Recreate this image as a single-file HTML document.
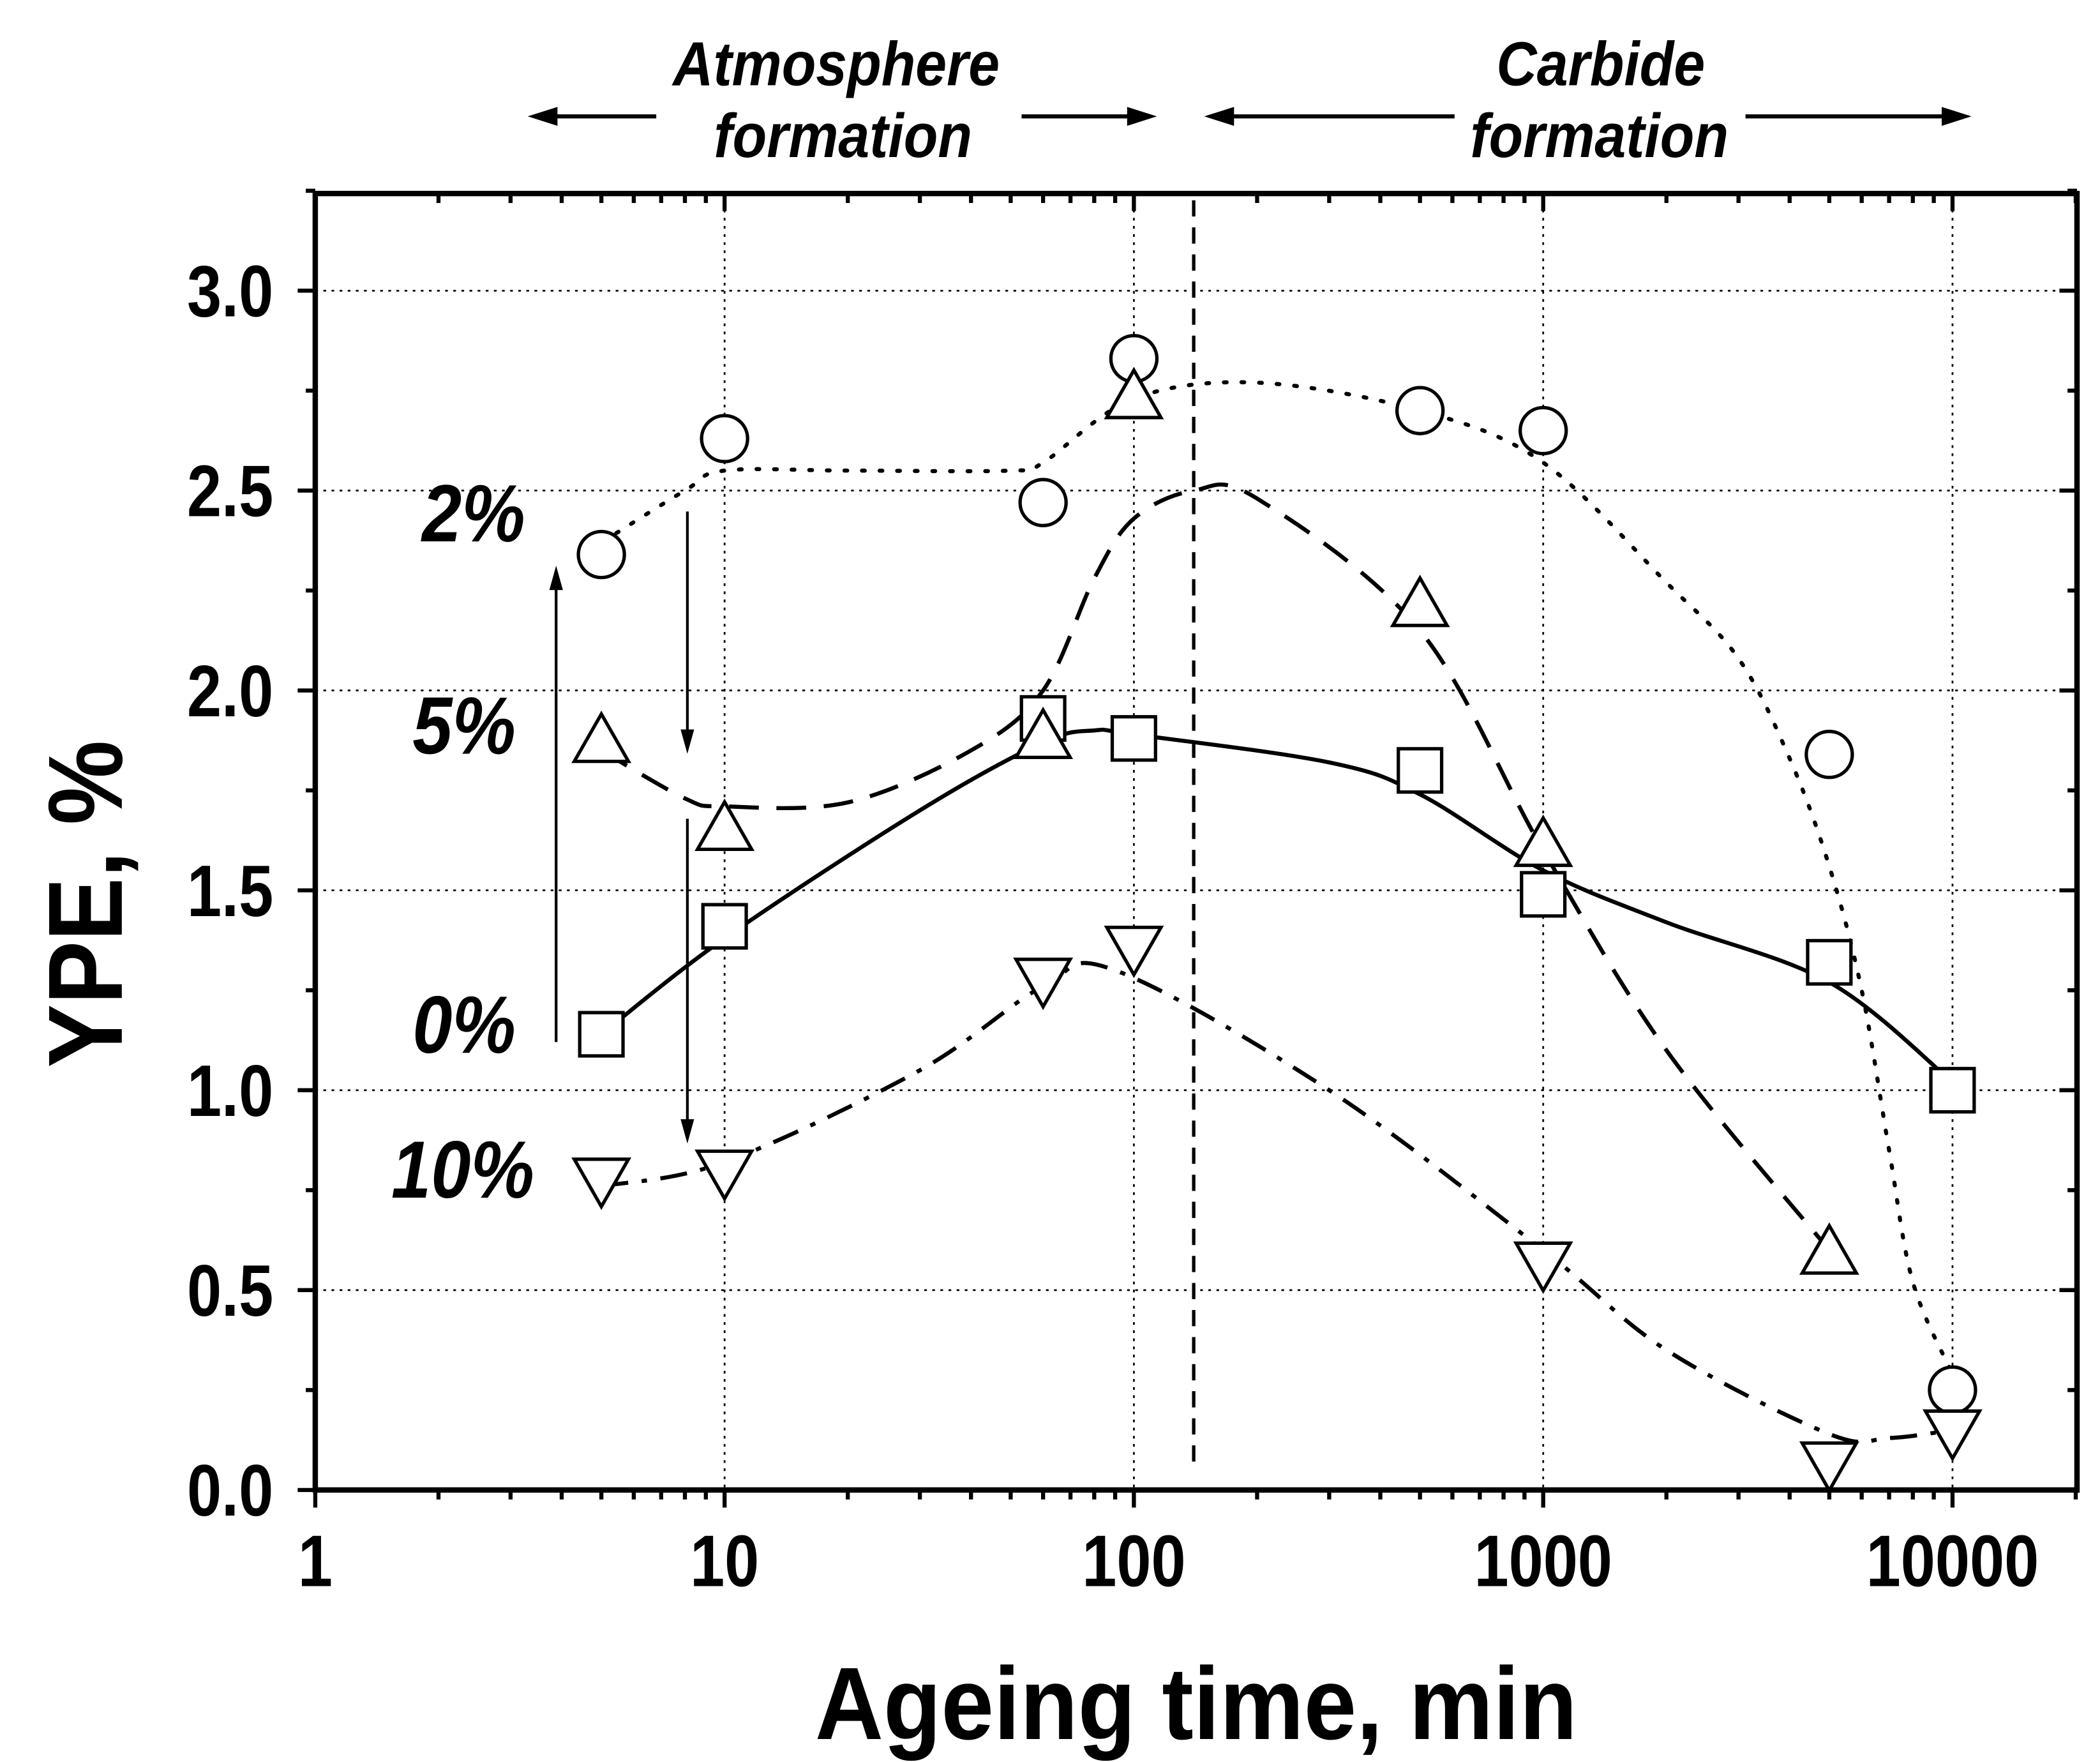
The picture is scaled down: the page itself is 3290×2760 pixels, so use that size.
<!DOCTYPE html>
<html><head><meta charset="utf-8"><style>
html,body{margin:0;padding:0;background:#fff}
svg{display:block}
text{font-family:"Liberation Sans Narrow","Liberation Sans",sans-serif;font-weight:bold;fill:#000}
</style></head><body>
<svg id="chart" width="3290" height="2760" viewBox="0 0 1552 1302" preserveAspectRatio="none" xmlns="http://www.w3.org/2000/svg">
<g id="g"></g>
</svg>
<script>
const xTicks=[1,10,100,1000,10000];
const xTickLabels=["1","10","100","1000","10000"];
const yTicks=[0,0.5,1.0,1.5,2.0,2.5,3.0];
const yTickLabels=["0.0","0.5","1.0","1.5","2.0","2.5","3.0"];
const sqX=[5,10,60,100,500,1000,5000,10000];
const sqY=[1.14,1.41,1.93,1.88,1.80,1.49,1.32,1.00];
const ciX=[5,10,60,100,500,1000,5000,10000];
const ciY=[2.34,2.63,2.47,2.83,2.70,2.65,1.84,0.25];
const upX=[5,10,60,100,500,1000,5000];
const upY=[1.87,1.65,1.88,2.73,2.21,1.61,0.59];
const dnX=[5,10,60,100,1000,5000,10000];
const dnY=[0.78,0.80,1.28,1.36,0.57,0.07,0.15];
const fitSqX=[5,10,30,60,80,100,300,500,1000,2000,5000,10000];
const fitSqY=[1.14,1.38,1.70,1.87,1.90,1.89,1.82,1.74,1.55,1.42,1.27,1.02];
const fitCiX=[5,8,10,20,50,60,100,200,500,1000,2000,3000,4000,5000,6000,7000,8000,10000];
const fitCiY=[2.37,2.50,2.55,2.55,2.55,2.57,2.73,2.77,2.70,2.57,2.27,2.08,1.83,1.56,1.25,0.85,0.52,0.29];
const fitUpX=[5,8,10,20,40,60,80,100,140,200,500,1000,2000,5000];
const fitUpY=[1.85,1.73,1.71,1.72,1.85,2.00,2.28,2.43,2.50,2.48,2.15,1.60,1.10,0.60];
const fitDnX=[5,10,30,60,90,300,1000,2000,5000,7000,10000];
const fitDnY=[0.76,0.82,1.05,1.26,1.30,1.00,0.60,0.35,0.14,0.13,0.15];

const L=233,R=1535,T=143,B=1101;
const xs=v=>L+Math.log10(v)*302.5;
const ys=v=>B-v*295.4;
const NS="http://www.w3.org/2000/svg";
const g=document.getElementById('g');
function el(tag,attrs,parent){const e=document.createElementNS(NS,tag);for(const k in attrs)e.setAttribute(k,attrs[k]);(parent||g).appendChild(e);return e;}

const grid=el('g',{});


xTicks.slice(1).forEach(v=>el('line',{x1:xs(v),x2:xs(v),y1:T,y2:B,stroke:'#000','stroke-width':1.3,'stroke-dasharray':'2,4'},grid));
yTicks.slice(1).forEach(v=>el('line',{x1:L,x2:R,y1:ys(v),y2:ys(v),stroke:'#000','stroke-width':1.3,'stroke-dasharray':'2,4'},grid));

const dv=el('line',{x1:xs(140),x2:xs(140),y1:T+5,y2:1082,stroke:'#000','stroke-width':2.5,'stroke-dasharray':'12,8'});



function smooth(xa,ya){const p=xa.map((x,i)=>[xs(x),ys(ya[i])]);let d=`M${p[0][0]},${p[0][1]}`;for(let i=0;i<p.length-1;i++){const p0=p[Math.max(0,i-1)],p1=p[i],p2=p[i+1],p3=p[Math.min(p.length-1,i+2)];const c1=[p1[0]+(p2[0]-p0[0])/6,p1[1]+(p2[1]-p0[1])/6];const c2=[p2[0]-(p3[0]-p1[0])/6,p2[1]-(p3[1]-p1[1])/6];d+=`C${c1[0]},${c1[1]} ${c2[0]},${c2[1]} ${p2[0]},${p2[1]}`;}return d;}
const c1=el('path',{d:smooth(fitSqX,fitSqY),fill:'none',stroke:'#000','stroke-width':3});


const c2=el('path',{d:smooth(fitCiX,fitCiY),fill:'none',stroke:'#000','stroke-width':3,'stroke-dasharray':'2,11','stroke-linecap':'round'});


const c3=el('path',{d:smooth(fitUpX,fitUpY),fill:'none',stroke:'#000','stroke-width':3,'stroke-dasharray':'22,13'});


const c4=el('path',{d:smooth(fitDnX,fitDnY),fill:'none',stroke:'#000','stroke-width':3,'stroke-dasharray':'20,10,4,10'});



const ms={stroke:'#000','stroke-width':2.5,fill:'#fff'};
sqX.forEach((x,i)=>{const cx=xs(x),cy=ys(sqY[i]);const m=el('rect',Object.assign({x:cx-16,y:cy-16,width:32,height:32},ms));

});
ciX.forEach((x,i)=>{const m=el('circle',Object.assign({cx:xs(x),cy:ys(ciY[i]),r:17},ms));

});
upX.forEach((x,i)=>{const cx=xs(x),cy=ys(upY[i]);const m=el('polygon',Object.assign({points:`${cx-20},${cy+14} ${cx+20},${cy+14} ${cx},${cy-21}`},ms));

});
dnX.forEach((x,i)=>{const cx=xs(x),cy=ys(dnY[i]);const m=el('polygon',Object.assign({points:`${cx-20},${cy-14} ${cx+20},${cy-14} ${cx},${cy+21}`},ms));

});

const fr=el('rect',{x:L,y:T,width:R-L,height:B-T,fill:'none',stroke:'#000','stroke-width':4});


const tk=el('g',{stroke:'#000','stroke-width':3});


for(let d=1;d<=10000;d*=10){for(let k=1;k<10;k++){const v=d*k;const x=xs(v);if(x>R)continue;const major=k===1;
el('line',{x1:x,x2:x,y1:B,y2:B+(major?13:7)},tk);el('line',{x1:x,x2:x,y1:T,y2:T+(major?13:7)},tk);}}
for(let v=0;v<=3.25;v+=0.25){const y=ys(v);const major=Math.abs(v*2-Math.round(v*2))<1e-6;
el('line',{x1:L,x2:L-(major?13:7),y1:y,y2:y},tk);el('line',{x1:R,x2:R-(major?13:7),y1:y,y2:y},tk);}

function ntext(s,x,y,size,anchor,sx,name,extra){const t=el('text',Object.assign({x:0,y:0,'font-size':size,'text-anchor':anchor,transform:`translate(${x},${y}) scale(${sx},1)`},extra||{}));t.textContent=s;

return t;}
xTicks.forEach((v,i)=>ntext(xTickLabels[i],xs(v),1172,54,'middle',0.85,'x-tick-label'));
yTicks.forEach((v,i)=>ntext(yTickLabels[i],202,ys(v)+19,54,'end',0.85,'y-tick-label'));

ntext('Ageing time, min',884,1285,76,'middle',0.92,'x-axis-title');
const yt=el('text',{x:0,y:0,'font-size':78,'text-anchor':'middle','transform':'translate(90,668) rotate(-90) scale(0.9,1)'});yt.textContent='YPE, %';



const it={'font-style':'italic'};
ntext('Atmosphere',618,63,46,'middle',0.9,'atmosphere-label',it);ntext('formation',623,116,46,'middle',0.9,'atmosphere-label-2',it);
ntext('Carbide',1183,63,46,'middle',0.9,'carbide-label',it);ntext('formation',1182,116,46,'middle',0.9,'carbide-label-2',it);
ntext('2%',350,400,60,'middle',0.88,'label-2pct',it);ntext('5%',343,557,60,'middle',0.88,'label-5pct',it);
ntext('0%',343,778,60,'middle',0.88,'label-0pct',it);ntext('10%',342,885,60,'middle',0.88,'label-10pct',it);

function harrow(x1,x2,y,name){const a=el('g',{});

const dir=Math.sign(x2-x1);el('line',{x1:x1,x2:x2-dir*18,y1:y,y2:y,stroke:'#000','stroke-width':3},a);
el('polygon',{points:`${x2},${y} ${x2-dir*22},${y-7} ${x2-dir*22},${y+7}`,fill:'#000'},a);}
harrow(485,390,86,'arrow-atmos-left');harrow(755,855,86,'arrow-atmos-right');
harrow(1075,890,86,'arrow-carbide-left');harrow(1290,1457,86,'arrow-carbide-right');
function varrow(x,y1,y2,name){const a=el('g',{});

const dir=Math.sign(y2-y1);el('line',{x1:x,x2:x,y1:y1,y2:y2-dir*14,stroke:'#000','stroke-width':2},a);
el('polygon',{points:`${x},${y2} ${x-5},${y2-dir*18} ${x+5},${y2-dir*18}`,fill:'#000'},a);}
varrow(411,770,418,'arrow-0-to-2');varrow(508,378,557,'arrow-2-to-5');varrow(508,605,845,'arrow-5-to-10');
</script>
</body></html>
